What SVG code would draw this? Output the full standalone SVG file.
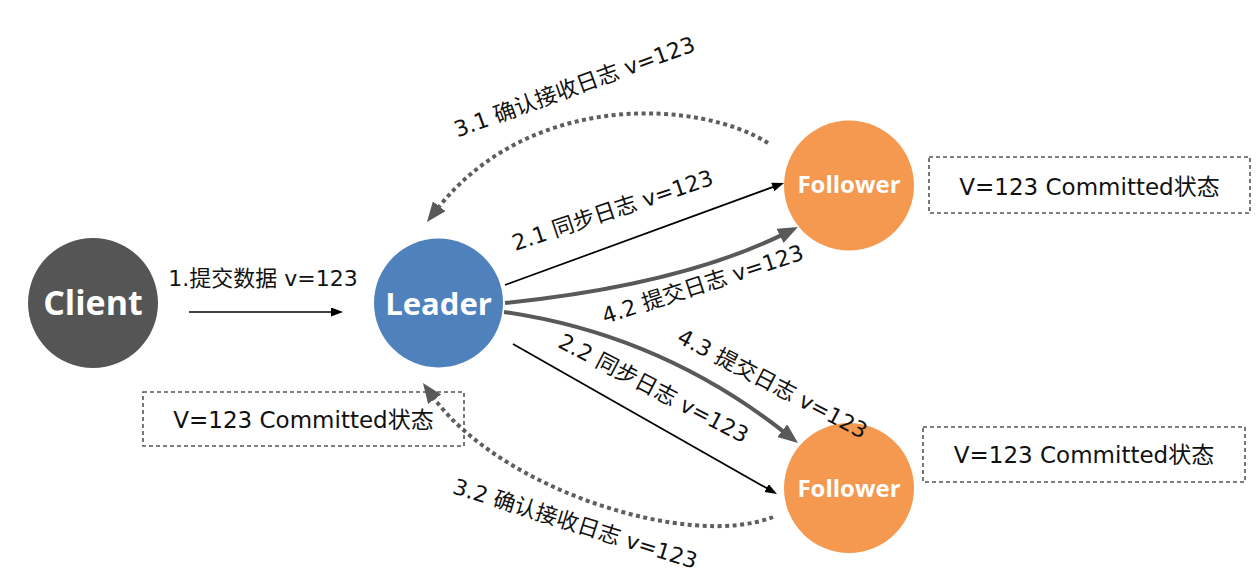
<svg xmlns="http://www.w3.org/2000/svg" width="1260" height="574" viewBox="0 0 1260 574">
<style>
.bg{fill:#ffffff}
.node-label{font-family:"Open Sans","DejaVu Sans",sans-serif;font-weight:700;fill:#ffffff;text-anchor:middle}
.lbl{font-family:"DejaVu Sans","Noto Sans CJK SC",sans-serif;font-size:22px;fill:#111111;text-anchor:middle}
.box{fill:none;stroke:#555555;stroke-width:1.6;stroke-dasharray:4 3}
.boxtxt{font-family:"DejaVu Sans","Noto Sans CJK SC",sans-serif;font-size:23px;fill:#111111;text-anchor:middle}
.thin{fill:none;stroke:#000000;stroke-width:1.7;marker-end:url(#ah-black)}
.thick{fill:none;stroke:#595959;stroke-width:4;marker-end:url(#ah-gray)}
.dotted{fill:none;stroke:#5e5e5e;stroke-width:4;stroke-dasharray:4 3.5;marker-end:url(#ah-dot)}
</style>
<defs>
<marker id="ah-black" markerUnits="userSpaceOnUse" markerWidth="13" markerHeight="10" refX="2" refY="4.5" orient="auto">
<path d="M0,0 L12,4.5 L0,9 z" fill="#000000"/>
</marker>
<marker id="ah-gray" markerUnits="userSpaceOnUse" markerWidth="21" markerHeight="17" refX="4" refY="8" orient="auto">
<path d="M0,0 L20,8 L0,16 z" fill="#595959"/>
</marker>
<marker id="ah-dot" markerUnits="userSpaceOnUse" markerWidth="21" markerHeight="17" refX="4" refY="8" orient="auto">
<path d="M0,0 L20,8 L0,16 z" fill="#595959"/>
</marker>
</defs>
<rect class="bg" x="0" y="0" width="1260" height="574"/>

<g id="connectors">
<path id="e-client-leader" class="thin" d="M189,312 L333,312"/>
<path id="e-21" class="thin" d="M505,285 L774.6,186.4"/>
<path id="e-22" class="thin" d="M513,344 L768.3,489.1"/>
<path id="e-42" class="thick" d="M505,303 Q680,285 783.6,234.1"/>
<path id="e-43" class="thick" d="M504,312 Q660,334.5 785.4,433.1"/>
<path id="e-31" class="dotted" d="M768,143 C700,100 530,90 436.8,209.4"/>
<path id="e-32" class="dotted" d="M773,517 C690,550 500,490 432.3,396"/>
</g>

<g id="client">
<circle cx="93" cy="303" r="65" fill="#555555"/>
<text class="node-label" x="93" y="315" font-size="34">Client</text>
</g>
<g id="leader">
<circle cx="438.5" cy="303" r="64.5" fill="#4F81BD"/>
<text class="node-label" x="438.5" y="315" font-size="31">Leader</text>
</g>
<g id="follower1">
<circle cx="849" cy="185.5" r="65" fill="#F4994F"/>
<text class="node-label" x="849" y="193" font-size="24">Follower</text>
</g>
<g id="follower2">
<circle cx="849" cy="488" r="65" fill="#F4994F"/>
<text class="node-label" x="849" y="497" font-size="24">Follower</text>
</g>

<g id="edge-labels">
<text class="lbl" x="263" y="286">1.提交数据 v=123</text>
<text class="lbl" transform="translate(577,94) rotate(-20)" x="0" y="0">3.1 确认接收日志 v=123</text>
<text class="lbl" transform="translate(615,217.5) rotate(-18.5)" x="0" y="0">2.1 同步日志 v=123</text>
<text class="lbl" transform="translate(705,291.5) rotate(-18)" x="0" y="0">4.2 提交日志 v=123</text>
<text class="lbl" transform="translate(769,390.5) rotate(27.6)" x="0" y="0">4.3 提交日志 v=123</text>
<text class="lbl" transform="translate(650,395) rotate(27.5)" x="0" y="0">2.2 同步日志 v=123</text>
<text class="lbl" transform="translate(573,531) rotate(17.4)" x="0" y="0">3.2 确认接收日志 v=123</text>
</g>

<g id="state-follower1">
<rect class="box" x="929" y="157" width="321" height="56"/>
<text class="boxtxt" x="1089.5" y="195">V=123 Committed状态</text>
</g>
<g id="state-follower2">
<rect class="box" x="923" y="427" width="322" height="55"/>
<text class="boxtxt" x="1084" y="463">V=123 Committed状态</text>
</g>
<g id="state-leader">
<rect class="box" x="143" y="392" width="321" height="54"/>
<text class="boxtxt" x="303.5" y="428">V=123 Committed状态</text>
</g>
</svg>
